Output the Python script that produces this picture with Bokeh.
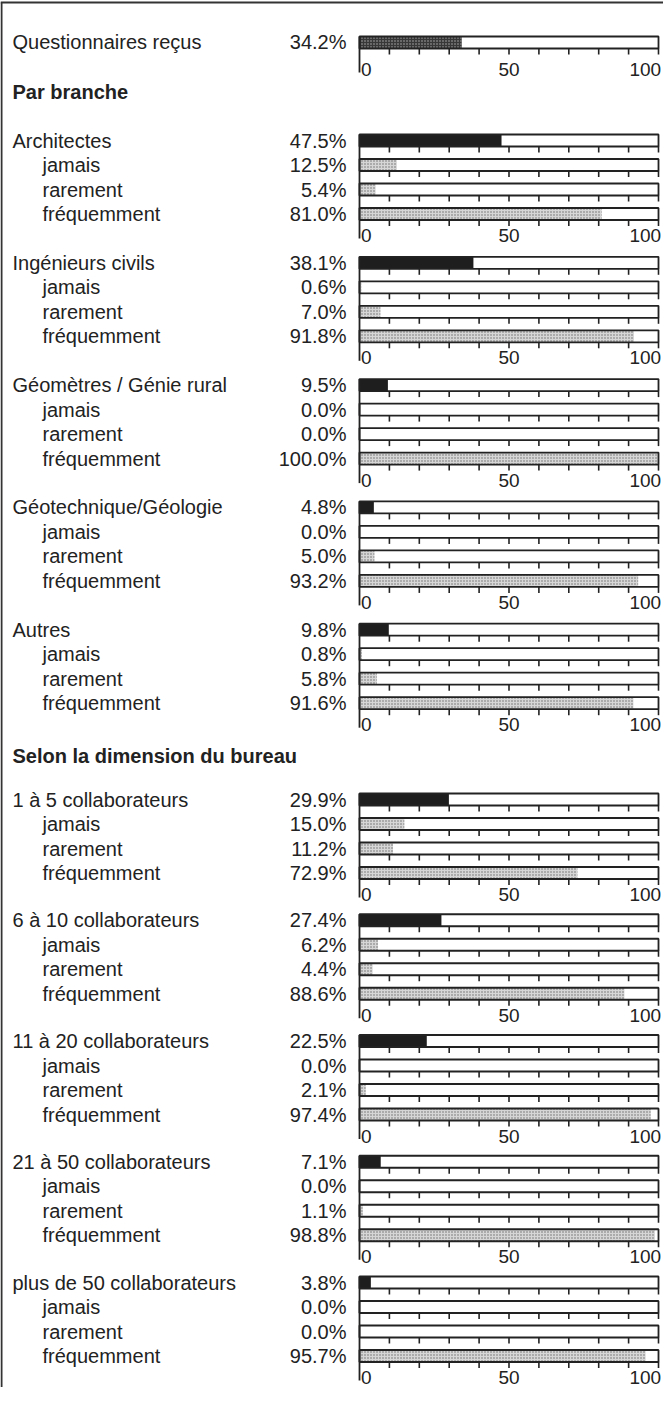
from bokeh.plotting import figure
from bokeh.models import Range1d, ColumnDataSource
from bokeh.embed import file_html
from bokeh.resources import INLINE
from bokeh.core.properties import value

# ---------------- data ----------------
overall_label = "Questionnaires reçus"
overall_value = 34.2

section_titles = ["Par branche", "Selon la dimension du bureau"]

branch_groups = ["Architectes", "Ingénieurs civils", "Géomètres / Génie rural",
                 "Géotechnique/Géologie", "Autres"]
branch_share = [47.5, 38.1, 9.5, 4.8, 9.8]
branch_jamais = [12.5, 0.6, 0.0, 0.0, 0.8]
branch_rarement = [5.4, 7.0, 0.0, 5.0, 5.8]
branch_frequemment = [81.0, 91.8, 100.0, 93.2, 91.6]

size_groups = ["1 à 5 collaborateurs", "6 à 10 collaborateurs", "11 à 20 collaborateurs",
               "21 à 50 collaborateurs", "plus de 50 collaborateurs"]
size_share = [29.9, 27.4, 22.5, 7.1, 3.8]
size_jamais = [15.0, 6.2, 0.0, 0.0, 0.0]
size_rarement = [11.2, 4.4, 2.1, 1.1, 0.0]
size_frequemment = [72.9, 88.6, 97.4, 98.8, 95.7]

sub_labels = ["jamais", "rarement", "fréquemment"]
tick_labels = ["0", "50", "100"]
tick_values = [0, 50, 100]
minor_ticks = [10, 20, 30, 40, 50, 60, 70, 80, 90, 100]

# ---------------- layout ----------------
W, H = 663, 1387
PX = 2.99                       # pixels per percent
X0 = -(367 - 8) / PX            # data x at the left edge of the canvas
X1 = X0 + W / PX


def px(xp):
    """page pixel -> data x"""
    return X0 + (xp - 8) / PX


FONT = value("Liberation Sans")
FS = "20px"
FS_TICK = "19px"
INK = "#222222"

p = figure(width=W, height=H, output_backend="svg", toolbar_location=None,
           x_range=Range1d(X0, X1), y_range=Range1d(8 + H, 8),
           min_border=0, min_border_left=0, min_border_right=0,
           min_border_top=0, min_border_bottom=0)
p.axis.visible = False
p.grid.visible = False
p.outline_line_color = None
p.background_fill_color = "white"
p.border_fill_color = "white"

BAR_H = 12
TICK = 6
PITCH = 24.5

rows = []        # (y, value, kind)
labels = []      # (x, y, text, align, bold)
axis_rows = []   # (y_top_first_bar, y_labels)


def add_group(name, share, subs, y0, label_gap=95):
    ys = [y0 + i * PITCH for i in range(4)]
    labels.append((px(20), ys[0], name, "left", False))
    labels.append((px(354), ys[0], f"{share:.1f}%", "right", False))
    rows.append((ys[0], share, "main"))
    for k, (lab, v) in enumerate(zip(sub_labels, subs)):
        labels.append((px(50), ys[k + 1], lab, "left", False))
        labels.append((px(354), ys[k + 1], f"{v:.1f}%", "right", False))
        rows.append((ys[k + 1], v, "sub"))
    axis_rows.append((ys[0] - BAR_H / 2, y0 + label_gap))


# overall row
labels.append((px(20), 49, overall_label, "left", False))
labels.append((px(354), 49, f"{overall_value:.1f}%", "right", False))
rows.append((50, overall_value, "overall"))
axis_rows.append((50 - BAR_H / 2, 77))

labels.append((px(20), 99, section_titles[0], "left", True))
for i, g in enumerate(branch_groups):
    add_group(g, branch_share[i],
              [branch_jamais[i], branch_rarement[i], branch_frequemment[i]],
              148 + i * 122.3)

labels.append((px(20), 763, section_titles[1], "left", True))
for i, g in enumerate(size_groups):
    add_group(g, size_share[i],
              [size_jamais[i], size_rarement[i], size_frequemment[i]],
              807 + i * 120.75)

# ---------------- frame (left + top) ----------------
p.segment(x0=[px(8), px(9)], y0=[10, 10],
          x1=[X1, px(9)], y1=[10, 8 + H],
          line_color="#333333", line_width=2)

# ---------------- bars ----------------
styles = {
    "main": dict(fill_color="#1e1e1e", hatch_pattern=None),
    "sub": dict(fill_color="#d6d6d6", hatch_pattern="dot", hatch_color="#6a6a6a",
                hatch_scale=3, hatch_weight=1),
    "overall": dict(fill_color="#383838", hatch_pattern="dot", hatch_color="#b0b0b0",
                    hatch_scale=3, hatch_weight=1),
}
for kind, st in styles.items():
    sel = [r for r in rows if r[2] == kind]
    src = ColumnDataSource(dict(
        left=[0] * len(sel), right=[r[1] for r in sel],
        top=[r[0] - BAR_H / 2 for r in sel], bottom=[r[0] + BAR_H / 2 for r in sel]))
    p.quad(left="left", right="right", top="top", bottom="bottom", source=src,
           line_color=None, **st)

# outline boxes
p.quad(left=[0] * len(rows), right=[100] * len(rows),
       top=[r[0] - BAR_H / 2 for r in rows], bottom=[r[0] + BAR_H / 2 for r in rows],
       fill_color=None, line_color=INK, line_width=1.8)

# minor ticks under each bar
tx, ty0, ty1 = [], [], []
for (y, v, k) in rows:
    for t in minor_ticks:
        tx.append(t)
        ty0.append(y + BAR_H / 2)
        ty1.append(y + BAR_H / 2 + TICK)
p.segment(x0=tx, y0=ty0, x1=tx, y1=ty1, line_color=INK, line_width=1.6)

# left axis line at 0 per block
p.segment(x0=[0] * len(axis_rows), y0=[a[0] for a in axis_rows],
          x1=[0] * len(axis_rows), y1=[a[1] + 3 for a in axis_rows],
          line_color=INK, line_width=1.8)

# tick labels
lx, ly, lt, la = [], [], [], []
for (_, yl) in axis_rows:
    for v, t in zip(tick_values, tick_labels):
        lx.append(v + (0.5 if v == 0 else (0.9 if v == 100 else 0)))
        ly.append(yl)
        lt.append(t)
        la.append("left" if v == 0 else ("right" if v == 100 else "center"))
p.text(x="x", y="y", text="t", text_align="a",
       source=ColumnDataSource(dict(x=lx, y=ly, t=lt, a=la)),
       text_font=FONT, text_font_size=FS_TICK, text_baseline="middle", text_color=INK)

# row labels
for bold in (False, True):
    sel = [l for l in labels if l[4] == bold]
    src = ColumnDataSource(dict(x=[l[0] for l in sel], y=[l[1] for l in sel],
                                t=[l[2] for l in sel], a=[l[3] for l in sel]))
    p.text(x="x", y="y", text="t", text_align="a", source=src,
           text_font=FONT, text_font_size=FS, text_baseline="middle", text_color=INK,
           text_font_style="bold" if bold else "normal")

open("out.html", "w").write(file_html(p, INLINE))
